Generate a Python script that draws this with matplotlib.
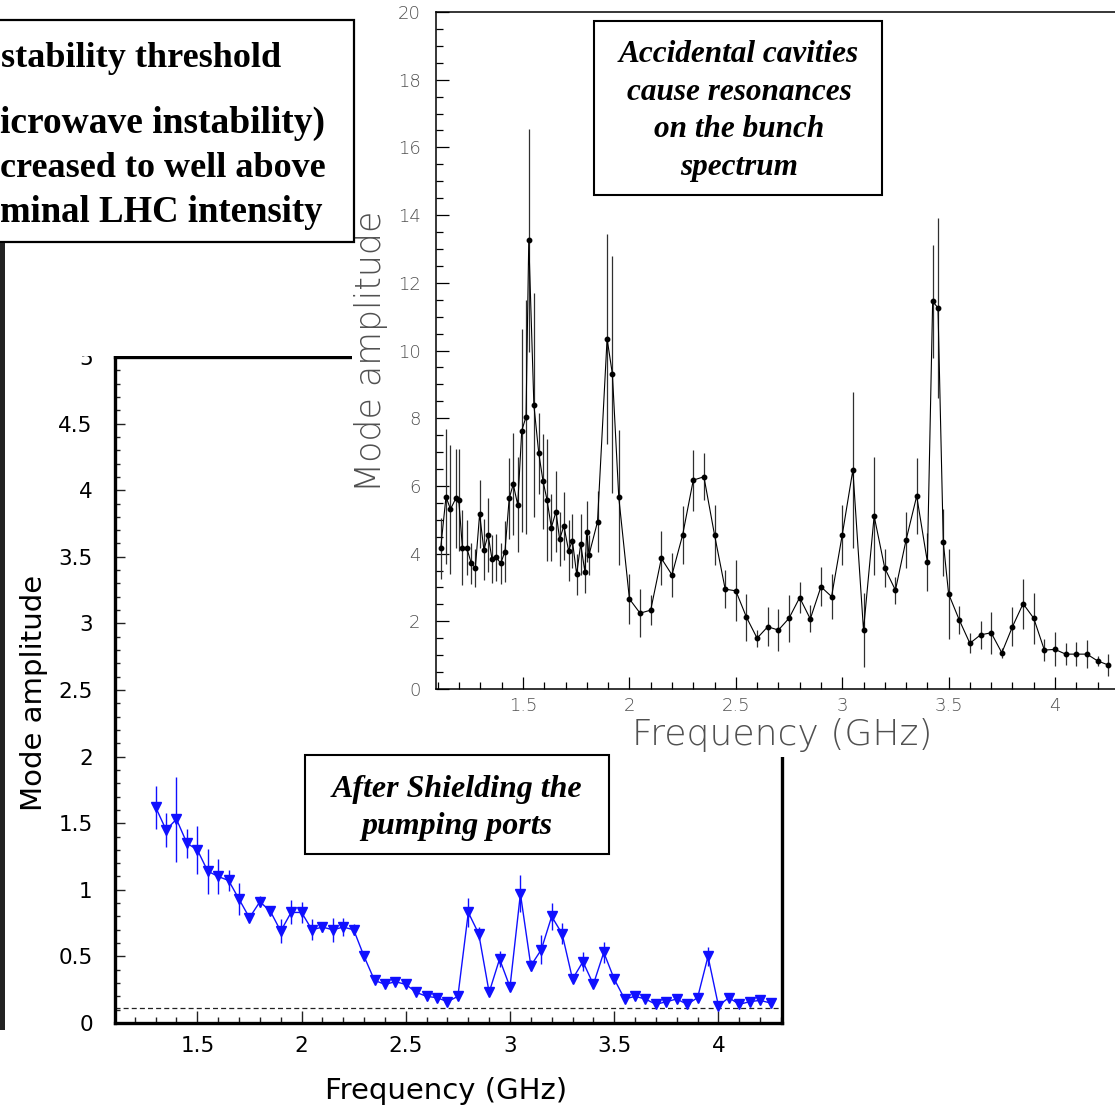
import matplotlib
matplotlib.use("Agg")
import matplotlib.pyplot as plt
from matplotlib.patches import Rectangle
from matplotlib.ticker import MultipleLocator, FuncFormatter

# ---------------- data ----------------
# Bunch spectrum before shielding (black points)
freq_black = [1.113, 1.138, 1.159, 1.184, 1.198, 1.215, 1.235, 1.257, 1.276, 1.296,
              1.316, 1.336, 1.354, 1.375, 1.395, 1.415, 1.435, 1.454, 1.475, 1.494,
              1.514, 1.527, 1.551, 1.574, 1.594, 1.613, 1.633, 1.655, 1.672, 1.692,
              1.714, 1.732, 1.752, 1.771, 1.791, 1.799, 1.810, 1.850, 1.895, 1.920,
              1.950, 2.00, 2.05, 2.10, 2.15, 2.20, 2.25, 2.30, 2.35, 2.40,
              2.45, 2.50, 2.55, 2.60, 2.65, 2.70, 2.75, 2.80, 2.85, 2.90,
              2.95, 3.00, 3.05, 3.10, 3.15, 3.20, 3.25, 3.30, 3.35, 3.40,
              3.425, 3.45, 3.475, 3.50, 3.55, 3.60, 3.65, 3.70, 3.75, 3.80,
              3.85, 3.90, 3.95, 4.00, 4.05, 4.10, 4.15, 4.20, 4.25]
amp_black = [4.16, 5.68, 5.31, 5.63, 5.58, 4.18, 4.18, 3.71, 3.58, 5.17,
             4.11, 4.55, 3.84, 3.89, 3.71, 4.06, 5.63, 6.05, 5.44, 7.63,
             8.04, 13.25, 8.39, 6.96, 6.14, 5.58, 4.77, 5.24, 4.42, 4.82,
             4.09, 4.38, 3.39, 4.28, 3.45, 4.65, 3.96, 4.94, 10.35, 9.30,
             5.66, 2.66, 2.24, 2.33, 3.86, 3.37, 4.55, 6.17, 6.27, 4.55,
             2.95, 2.90, 2.12, 1.50, 1.84, 1.74, 2.09, 2.70, 2.07, 3.02,
             2.73, 4.55, 6.47, 1.74, 5.11, 3.57, 2.92, 4.40, 5.70, 3.76,
             11.45, 11.26, 4.33, 2.81, 2.04, 1.35, 1.60, 1.66, 1.07, 1.84,
             2.52, 2.09, 1.15, 1.17, 1.03, 1.03, 1.03, 0.83, 0.71]
err_black = [0.9, 2.0, 1.9, 1.45, 1.5, 1.1, 0.8, 0.6, 0.57, 1.0,
             0.9, 1.1, 0.7, 0.7, 0.6, 0.9, 1.2, 1.5, 1.4, 3.0,
             3.45, 3.3, 3.3, 1.2, 1.4, 1.8, 1.0, 1.2, 0.8, 1.0,
             0.9, 0.8, 0.6, 0.9, 0.6, 0.9, 0.6, 0.9, 3.1, 3.5,
             2.0, 0.75, 0.7, 0.45, 0.8, 0.66, 0.85, 0.9, 0.7, 0.9,
             0.57, 0.9, 0.7, 0.25, 0.57, 0.62, 0.7, 0.45, 0.4, 0.57,
             0.67, 0.9, 2.3, 1.1, 1.75, 0.57, 0.4, 0.84, 1.13, 0.86,
             1.67, 2.66, 1.0, 1.33, 0.42, 0.3, 0.42, 0.62, 0.15, 0.57,
             0.74, 0.76, 0.32, 0.5, 0.32, 0.35, 0.42, 0.15, 0.32]

# Bunch spectrum after shielding the pumping ports (blue triangles)
freq_blue = [1.30, 1.35, 1.40, 1.45, 1.50, 1.55, 1.60, 1.65, 1.70, 1.75,
             1.80, 1.85, 1.90, 1.95, 2.00, 2.05, 2.10, 2.15, 2.20, 2.25,
             2.30, 2.35, 2.40, 2.45, 2.50, 2.55, 2.60, 2.65, 2.70, 2.75,
             2.80, 2.85, 2.90, 2.95, 3.00, 3.05, 3.10, 3.15, 3.20, 3.25,
             3.30, 3.35, 3.40, 3.45, 3.50, 3.55, 3.60, 3.65, 3.70, 3.75,
             3.80, 3.85, 3.90, 3.95, 4.00, 4.05, 4.10, 4.15, 4.20, 4.25]
amp_blue = [1.62, 1.45, 1.53, 1.35, 1.30, 1.14, 1.10, 1.07, 0.93, 0.79,
            0.91, 0.84, 0.69, 0.83, 0.83, 0.70, 0.72, 0.70, 0.72, 0.70,
            0.50, 0.32, 0.29, 0.31, 0.29, 0.23, 0.20, 0.19, 0.16, 0.20,
            0.83, 0.67, 0.23, 0.48, 0.27, 0.97, 0.43, 0.55, 0.80, 0.67,
            0.33, 0.46, 0.29, 0.53, 0.33, 0.18, 0.20, 0.18, 0.14, 0.16,
            0.18, 0.14, 0.19, 0.50, 0.13, 0.19, 0.14, 0.16, 0.17, 0.15]
err_blue = [0.16, 0.13, 0.32, 0.11, 0.18, 0.17, 0.13, 0.08, 0.12, 0.03,
            0.04, 0.03, 0.09, 0.09, 0.08, 0.08, 0.04, 0.09, 0.07, 0.04,
            0.03, 0.02, 0.02, 0.02, 0.02, 0.02, 0.02, 0.02, 0.02, 0.03,
            0.11, 0.05, 0.03, 0.06, 0.03, 0.14, 0.04, 0.11, 0.10, 0.08,
            0.03, 0.07, 0.03, 0.08, 0.03, 0.02, 0.02, 0.02, 0.02, 0.02,
            0.02, 0.02, 0.03, 0.07, 0.02, 0.02, 0.02, 0.02, 0.02, 0.02]
noise_level = 0.115

note_lines = ["stability threshold", "icrowave instability)",
              "creased to well above", "minal LHC intensity"]
black_box_lines = ["Accidental cavities", "cause resonances", "on the bunch", "spectrum"]
blue_box_lines = ["After Shielding the", "pumping ports"]

# ---------------- layout helpers (pixel based) ----------------
W, H = 1115, 1109
fig = plt.figure(figsize=(W / 100, H / 100), dpi=100)
fig.patch.set_facecolor("white")


def fx(px):
    return px / W


def fy(py):
    return 1 - py / H


def frect(x0, y0, x1, y1):
    return [x0 / W, 1 - y1 / H, (x1 - x0) / W, (y1 - y0) / H]


fmt_g = FuncFormatter(lambda v, p: "%g" % round(v, 3))

# ---------------- blue (after shielding) panel ----------------
ax_b = fig.add_axes(frect(115, 357, 782, 1023))
ax_b.set_zorder(1)
blue = "#1010ff"
ax_b.errorbar(freq_blue, amp_blue, yerr=err_blue, fmt="-", color=blue, lw=1.0,
              marker="v", ms=7.5, elinewidth=1.0, ecolor=blue, capsize=0)
ax_b.axhline(noise_level, color="#222222", lw=0.9, ls=(0, (4, 2.5)))
ax_b.set_xlim(1.105, 4.305)
ax_b.set_ylim(0, 5)
for sp in ax_b.spines.values():
    sp.set_linewidth(2.4)
ax_b.xaxis.set_major_locator(MultipleLocator(0.5))
ax_b.xaxis.set_minor_locator(MultipleLocator(0.1))
ax_b.yaxis.set_major_locator(MultipleLocator(0.5))
ax_b.yaxis.set_minor_locator(MultipleLocator(0.1))
ax_b.xaxis.set_major_formatter(fmt_g)
ax_b.yaxis.set_major_formatter(fmt_g)
ax_b.tick_params(which="both", direction="in", top=False, right=False,
                 labelsize=15.5, width=1.0, color="#222222")
ax_b.tick_params(axis="x", which="major", length=9, pad=9)
ax_b.tick_params(axis="x", which="minor", length=4.5)
ax_b.tick_params(axis="y", which="major", length=7.5, pad=16)
ax_b.tick_params(axis="y", which="minor", length=3.5)
ax_b.set_xlabel("Frequency (GHz)", fontsize=21)
ax_b.xaxis.set_label_coords(0.497, -0.081)
ax_b.set_ylabel("Mode amplitude", fontsize=21)
ax_b.yaxis.set_label_coords(-0.100, 0.495)

# cover hiding the upper edge of the blue panel
fig.add_artist(Rectangle((0, fy(355.5)), fx(352), 1 - fy(355.5), transform=fig.transFigure,
                         facecolor="white", edgecolor="none", zorder=2))

# white background for the black (before shielding) panel
fig.add_artist(Rectangle((fx(352), fy(757)), 1 - fx(352), fy(0) - fy(757) + 0.01,
                         transform=fig.transFigure, facecolor="white",
                         edgecolor="none", zorder=2))

# ---------------- black (before shielding) panel ----------------
ax_k = fig.add_axes(frect(436, 12, 1118, 689))
ax_k.set_zorder(3)
ax_k.patch.set_facecolor("none")
ax_k.errorbar(freq_black, amp_black, yerr=err_black, fmt="-", color="black", lw=0.8,
              marker="o", ms=3.2, elinewidth=0.9, ecolor="#303030", capsize=0)
ax_k.set_xlim(1.091, 4.296)
ax_k.set_ylim(0, 20)
for sp in ax_k.spines.values():
    sp.set_linewidth(1.1)
ax_k.spines["right"].set_visible(False)
ax_k.xaxis.set_major_locator(MultipleLocator(0.5))
ax_k.xaxis.set_minor_locator(MultipleLocator(0.1))
ax_k.yaxis.set_major_locator(MultipleLocator(2))
ax_k.yaxis.set_minor_locator(MultipleLocator(0.5))
ax_k.xaxis.set_major_formatter(fmt_g)
ax_k.yaxis.set_major_formatter(fmt_g)
ax_k.tick_params(which="both", direction="in", top=False, right=False,
                 labelsize=13, labelcolor="#505050", width=0.9)
ax_k.tick_params(which="major", length=9)
ax_k.tick_params(which="minor", length=5)
ax_k.tick_params(axis="x", which="major", pad=6)
ax_k.tick_params(axis="y", which="major", pad=11)
for lab in ax_k.get_xticklabels() + ax_k.get_yticklabels():
    lab.set_fontweight("light")
ax_k.set_xlabel("Frequency (GHz)", fontsize=26, color="#505050", fontweight="light")
ax_k.xaxis.set_label_coords(0.508, -0.043)
ax_k.set_ylabel("Mode amplitude", fontsize=25, color="#505050", fontweight="light")
ax_k.yaxis.set_label_coords(-0.070, 0.499)

# ---------------- annotation boxes ----------------
serif = "Liberation Serif"

# note box at the top left
fig.add_artist(Rectangle((fx(-10), fy(242)), fx(354) - fx(-10), fy(20) - fy(242),
                         transform=fig.transFigure, facecolor="white",
                         edgecolor="black", lw=1.6, zorder=4))
for text, right, base, size in zip(note_lines, [281, 325, 326, 323], [67, 133, 177, 222],
                                   [26, 27, 26, 26.5]):
    fig.text(fx(right), fy(base), text, ha="right", va="baseline", fontsize=size,
             fontweight="bold", family=serif, zorder=5)

# dark edge strip at the far left
fig.add_artist(Rectangle((0, fy(1030)), fx(5), fy(243) - fy(1030), transform=fig.transFigure,
                         facecolor="#222222", edgecolor="none", zorder=4))

# box inside the black panel
fig.add_artist(Rectangle((fx(594), fy(195)), fx(882) - fx(594), fy(21) - fy(195),
                         transform=fig.transFigure, facecolor="white",
                         edgecolor="black", lw=1.5, zorder=4))
for text, base in zip(black_box_lines, [62, 100, 137, 175]):
    fig.text(fx(739), fy(base), text, ha="center", va="baseline", fontsize=22.5,
             fontweight="bold", fontstyle="italic", family=serif, zorder=5)

# box inside the blue panel
fig.add_artist(Rectangle((fx(305), fy(854)), fx(609) - fx(305), fy(755) - fy(854),
                         transform=fig.transFigure, facecolor="white",
                         edgecolor="black", lw=1.5, zorder=4))
for text, base in zip(blue_box_lines, [797, 834]):
    fig.text(fx(457), fy(base), text, ha="center", va="baseline", fontsize=23,
             fontweight="bold", fontstyle="italic", family=serif, zorder=5)

fig.savefig("out.png", dpi=100, facecolor="white")
